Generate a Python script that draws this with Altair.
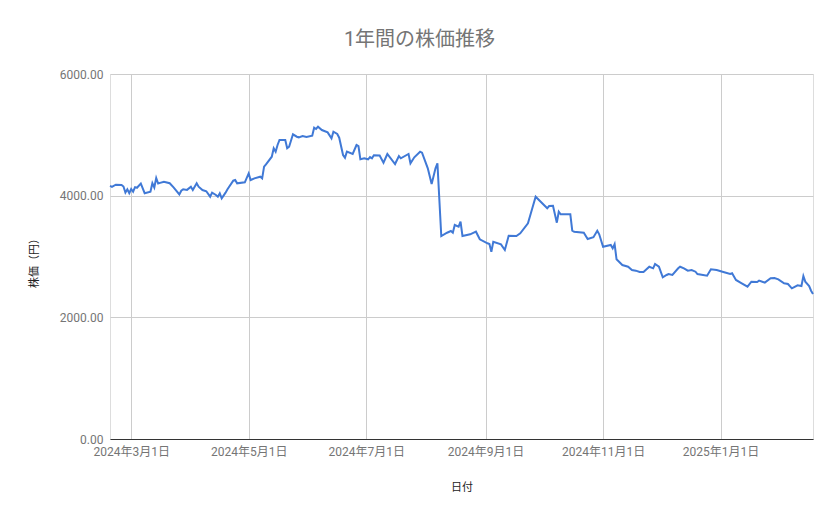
import altair as alt
import pandas as pd

dates = [
    "2024-02-19", "2024-02-20", "2024-02-22", "2024-02-25", "2024-02-26", "2024-02-27", "2024-02-28", "2024-02-29",
    "2024-03-01", "2024-03-02", "2024-03-03", "2024-03-04", "2024-03-06", "2024-03-07", "2024-03-08", "2024-03-11",
    "2024-03-12", "2024-03-13", "2024-03-14", "2024-03-15", "2024-03-16", "2024-03-18", "2024-03-21", "2024-03-23",
    "2024-03-26", "2024-03-27", "2024-03-28", "2024-03-30", "2024-04-01", "2024-04-02", "2024-04-04", "2024-04-05",
    "2024-04-07", "2024-04-09", "2024-04-11", "2024-04-12", "2024-04-14", "2024-04-15", "2024-04-16", "2024-04-17",
    "2024-04-19", "2024-04-20", "2024-04-23", "2024-04-24", "2024-04-25", "2024-04-29", "2024-05-01", "2024-05-02",
    "2024-05-04", "2024-05-07", "2024-05-08", "2024-05-09", "2024-05-10", "2024-05-13", "2024-05-14", "2024-05-15",
    "2024-05-16", "2024-05-17", "2024-05-20", "2024-05-21", "2024-05-22", "2024-05-24", "2024-05-26", "2024-05-27",
    "2024-05-29", "2024-05-31", "2024-06-03", "2024-06-04", "2024-06-05", "2024-06-06", "2024-06-08", "2024-06-11",
    "2024-06-13", "2024-06-14", "2024-06-16", "2024-06-17", "2024-06-19", "2024-06-20", "2024-06-21", "2024-06-24",
    "2024-06-26", "2024-06-27", "2024-06-28", "2024-06-30", "2024-07-02", "2024-07-03", "2024-07-04", "2024-07-05",
    "2024-07-08", "2024-07-10", "2024-07-12", "2024-07-16", "2024-07-18", "2024-07-19", "2024-07-23", "2024-07-24",
    "2024-07-26", "2024-07-29", "2024-07-30", "2024-08-02", "2024-08-04", "2024-08-06", "2024-08-07", "2024-08-09",
    "2024-08-12", "2024-08-14", "2024-08-15", "2024-08-16", "2024-08-18", "2024-08-19", "2024-08-20", "2024-08-24",
    "2024-08-27", "2024-08-29", "2024-09-02", "2024-09-03", "2024-09-04", "2024-09-05", "2024-09-09", "2024-09-11",
    "2024-09-13", "2024-09-17", "2024-09-19", "2024-09-23", "2024-09-25", "2024-09-27", "2024-10-03", "2024-10-04",
    "2024-10-06", "2024-10-08", "2024-10-09", "2024-10-10", "2024-10-15", "2024-10-16", "2024-10-17", "2024-10-22",
    "2024-10-24", "2024-10-27", "2024-10-29", "2024-10-30", "2024-11-01", "2024-11-05", "2024-11-06", "2024-11-07",
    "2024-11-08", "2024-11-11", "2024-11-14", "2024-11-16", "2024-11-18", "2024-11-20", "2024-11-22", "2024-11-25",
    "2024-11-27", "2024-11-28", "2024-11-30", "2024-12-02", "2024-12-04", "2024-12-05", "2024-12-07", "2024-12-10",
    "2024-12-11", "2024-12-13", "2024-12-15", "2024-12-17", "2024-12-19", "2024-12-20", "2024-12-25", "2024-12-27",
    "2024-12-30", "2025-01-02", "2025-01-06", "2025-01-07", "2025-01-09", "2025-01-12", "2025-01-15", "2025-01-17",
    "2025-01-20", "2025-01-21", "2025-01-24", "2025-01-27", "2025-01-29", "2025-01-31", "2025-02-03", "2025-02-05",
    "2025-02-07", "2025-02-08", "2025-02-10", "2025-02-12", "2025-02-13", "2025-02-14", "2025-02-16", "2025-02-17",
    "2025-02-18",
]

prices = [
    4160, 4145, 4180, 4175, 4150, 4050, 4105, 4040,
    4110, 4065, 4140, 4130, 4200, 4120, 4040, 4065,
    4205, 4135, 4290, 4200, 4210, 4230, 4205, 4137,
    4020, 4082, 4105, 4095, 4147, 4093, 4203, 4147,
    4093, 4072, 3983, 4049, 4011, 3983, 4039, 3957,
    4049, 4105, 4246, 4257, 4203, 4220, 4365, 4257,
    4285, 4312, 4285, 4476, 4516, 4640, 4779, 4723,
    4833, 4915, 4915, 4779, 4805, 5009, 4969, 4959,
    4981, 4964, 4986, 5117, 5096, 5134, 5079, 5041,
    4943, 5051, 5014, 4953, 4668, 4624, 4723, 4685,
    4833, 4816, 4598, 4614, 4598, 4635, 4614, 4664,
    4660, 4542, 4685, 4520, 4652, 4614, 4685, 4532,
    4631, 4723, 4706, 4450, 4192, 4450, 4532, 3337,
    3391, 3419, 3391, 3518, 3490, 3572, 3337, 3365,
    3408, 3283, 3217, 3205, 3079, 3243, 3200, 3107,
    3342, 3337, 3381, 3546, 3764, 3983, 3792, 3830,
    3835, 3556, 3736, 3694, 3694, 3424, 3408, 3391,
    3288, 3316, 3424, 3365, 3161, 3189, 3135, 3205,
    2954, 2860, 2832, 2778, 2767, 2745, 2745, 2832,
    2806, 2877, 2832, 2658, 2696, 2712, 2696, 2806,
    2832, 2806, 2767, 2778, 2750, 2712, 2685, 2790,
    2778, 2750, 2712, 2724, 2614, 2559, 2504, 2586,
    2581, 2603, 2570, 2642, 2647, 2625, 2559, 2548,
    2477, 2494, 2527, 2515, 2679, 2586, 2515, 2438,
    2384,
]

x_tick_dates = [(2024, 3, 1), (2024, 5, 1), (2024, 7, 1), (2024, 9, 1), (2024, 11, 1), (2025, 1, 1)]
y_ticks = [0, 2000, 4000, 6000]

df = pd.DataFrame({"日付": [d + "T00:00:00" for d in dates], "株価": prices})

FONT = "Roboto, 'Noto Sans CJK JP', sans-serif"

x_axis = alt.Axis(
    values=[alt.DateTime(year=y, month=m, date=d) for (y, m, d) in x_tick_dates],
    format="%Y年%-m月%-d日",
    grid=True, gridColor="#cccccc", gridWidth=1,
    ticks=False, labelPadding=7, labelFlush=False, labelOverlap=False,
    labelFont=FONT, labelFontSize=12, labelColor="#757575",
    domain=True, domainColor="#333333", domainWidth=1,
    title="日付", titleFont=FONT, titleFontSize=11, titleFontWeight="normal",
    titleColor="#222222", titleX=351.5, titleY=48, titleBaseline="middle", titleAlign="center",
)

y_axis = alt.Axis(
    values=y_ticks, format=".2f",
    grid=True, gridColor="#cccccc", gridWidth=1,
    ticks=False, domain=False, labelPadding=7,
    labelFont=FONT, labelFontSize=12, labelColor="#757575",
    title="株価（円）", titleFont=FONT, titleFontSize=11, titleFontWeight="normal",
    titleColor="#222222", titleX=-76, titleY=186, titleAngle=270,
    titleBaseline="middle", titleAlign="center",
)

chart = alt.Chart(df).mark_line(color="#4079d6", strokeWidth=2).encode(
    x=alt.X("日付:T", axis=x_axis,
            scale=alt.Scale(domain=[alt.DateTime(year=2024, month=2, date=19),
                                    alt.DateTime(year=2025, month=2, date=18)], nice=False)),
    y=alt.Y("株価:Q", axis=y_axis, scale=alt.Scale(domain=[0, 6000], nice=False)),
).properties(
    width=703, height=365,
    title=alt.TitleParams(text="1年間の株価推移", font=FONT, fontSize=20, fontWeight="normal",
                          color="#757575", anchor="middle", dx=-42, offset=18),
    autosize=alt.AutoSizeParams(type="none"),
    padding={"left": 102, "top": 66, "right": 18, "bottom": 72},
).configure_view(stroke=None).configure(background="white")

chart.save("out.html", embed_options={"renderer": "svg", "actions": False})
